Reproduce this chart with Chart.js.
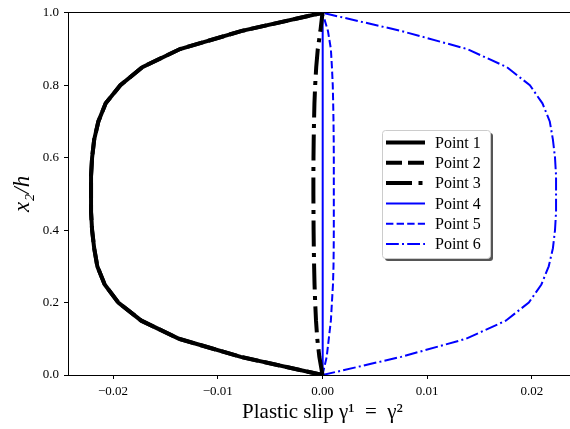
<!DOCTYPE html>
<html>
<head>
<meta charset="utf-8">
<script src="https://cdn.jsdelivr.net/npm/chart.js@4"></script>
<style>
html,body{margin:0;padding:0;overflow:hidden;background:#fff}
#wrap{width:590px;height:429px}
</style>
</head>
<body>
<div id="wrap"><canvas id="grafica"></canvas></div>
<script>
// alturas x2/h donde se mide el deslizamiento
const alturas = [0,0.05,0.1,0.15,0.2,0.25,0.3,0.35,0.4,0.45,0.5,0.55,0.6,0.65,0.7,0.75,0.8,0.85,0.9,0.95,1.0];
const punto1 = [0,-0.0078,-0.0137,-0.0173,-0.0195,-0.0208,-0.0215,-0.0218,-0.0220,-0.0221,-0.0221,-0.0221,-0.0220,-0.0218,-0.0214,-0.0207,-0.0193,-0.0172,-0.0136,-0.0077,0];
const punto2 = [0,-0.0078,-0.0137,-0.0173,-0.0195,-0.0208,-0.0215,-0.0218,-0.0220,-0.0221,-0.0221,-0.0221,-0.0220,-0.0218,-0.0214,-0.0207,-0.0193,-0.0172,-0.0136,-0.0077,0];
const punto3 = [0,-0.0003,-0.0005,-0.00062,-0.0007,-0.00076,-0.0008,-0.00083,-0.00085,-0.00086,-0.00087,-0.00087,-0.00086,-0.00084,-0.00081,-0.00077,-0.0007,-0.0006,-0.00045,-0.0002,0];
const punto4 = [0,0.00001,0.00002,0.00002,0.00002,0.00002,0.00002,0.00002,0.00002,0.00002,0.00002,0.00002,0.00002,0.00002,0.00002,0.00002,0.00002,0.00002,0.00002,0.00001,0];
const punto5 = [0,0.0004,0.0006,0.0008,0.0009,0.001,0.00105,0.00107,0.00108,0.00108,0.00108,0.00108,0.00108,0.00107,0.00105,0.00102,0.00098,0.0009,0.0008,0.00052,0];
const punto6 = [0,0.0075,0.0137,0.0175,0.0197,0.0209,0.0216,0.0220,0.0222,0.0223,0.0223,0.0223,0.0222,0.0220,0.0217,0.0210,0.0198,0.0176,0.0138,0.0075,0];
const nombres = ["Point 1","Point 2","Point 3","Point 4","Point 5","Point 6"];
const xTicks = [-0.02,-0.01,0,0.01,0.02];
const yTicks = [0,0.2,0.4,0.6,0.8,1.0];

const serif = "'Liberation Serif', 'DejaVu Serif', serif";

function serie(label, xs, color, width, dash) {
    return {
        label: label,
        data: xs.map((x, i) => ({x: x, y: alturas[i]})),
        borderColor: color,
        borderWidth: width,
        borderDash: dash,
        showLine: true,
        pointRadius: 0,
        fill: false,
        tension: 0,
    };
}

// leyenda con sombra, como la de matplotlib
const leyenda = {
    id: 'leyenda',
    afterDraw(chart) {
        const c = chart.ctx;
        const x0 = 382, y0 = 130, w = 108, h = 128;
        c.save();
        c.fillStyle = '#555';
        c.beginPath(); c.roundRect(x0 + 3, y0 + 3, w, h, 3); c.fill();
        c.fillStyle = '#fff';
        c.strokeStyle = '#ccc';
        c.lineWidth = 1;
        c.beginPath(); c.roundRect(x0 + 0.5, y0 + 0.5, w, h, 3); c.fill(); c.stroke();
        chart.data.datasets.forEach((d, i) => {
            const yy = 142.5 + i * 20.3;
            c.beginPath();
            c.setLineDash(d.borderDash || []);
            c.lineWidth = d.borderWidth;
            c.strokeStyle = d.borderColor;
            c.moveTo(386, yy); c.lineTo(425, yy);
            c.stroke();
            c.setLineDash([]);
            c.fillStyle = '#000';
            c.font = "16px " + serif;
            c.textBaseline = 'middle';
            c.fillText(d.label, 435, yy + 1);
        });
        c.restore();
    }
};

const grafica = document.querySelector("#grafica");
new Chart(grafica, {
    type: 'scatter',
    data: {
        datasets: [
            serie(nombres[0], punto1, '#000', 4, []),
            serie(nombres[1], punto2, '#000', 4, [16, 6]),
            serie(nombres[2], punto3, '#000', 4, [26, 6.5, 4, 6.5]),
            serie(nombres[3], punto4, '#0000ff', 2, []),
            serie(nombres[4], punto5, '#0000ff', 2, [7.4, 3.2]),
            serie(nombres[5], punto6, '#0000ff', 2, [12.8, 3.2, 2, 3.2]),
        ]
    },
    options: {
        responsive: true,
        maintainAspectRatio: false,
        animation: false,
        layout: {padding: {top: 12, right: 13, left: 0, bottom: 0}},
        plugins: {legend: {display: false}, tooltip: {enabled: false}},
        scales: {
            x: {
                type: 'linear', position: 'bottom',
                min: -0.0243, max: 0.0243,
                afterBuildTicks: s => { s.ticks = xTicks.map(v => ({value: v})); },
                afterFit: s => { s.height = 54; },
                ticks: {
                    callback: v => (v < 0 ? '\u2212' : '') + Math.abs(v).toFixed(2),
                    font: {family: serif, size: 13}, color: '#000',
                    padding: 5, maxRotation: 0, autoSkip: false,
                },
                grid: {drawOnChartArea: false, tickLength: 4, color: '#000'},
                border: {color: '#000', width: 1},
                title: {
                    display: true, text: 'Plastic slip \u03b3\u00b9\u2002=\u2002\u03b3\u00b2',
                    font: {family: serif, size: 21}, color: '#000',
                    padding: {top: 0, bottom: 4},
                },
            },
            y: {
                type: 'linear', position: 'left',
                min: 0, max: 1,
                afterBuildTicks: s => { s.ticks = yTicks.map(v => ({value: v})); },
                afterFit: s => { s.width = 68; },
                ticks: {
                    callback: v => v.toFixed(1),
                    font: {family: serif, size: 13}, color: '#000',
                    padding: 5, autoSkip: false,
                },
                grid: {drawOnChartArea: false, tickLength: 4, color: '#000'},
                border: {color: '#000', width: 1},
                title: {
                    display: true, text: 'x\u2082/h',
                    font: {family: serif, size: 23, style: 'italic'}, color: '#000',
                    padding: {top: 9, bottom: 0},
                },
            },
            arriba: {
                type: 'linear', position: 'top', axis: 'x',
                afterFit: s => { s.height = 0; },
                ticks: {display: false},
                grid: {display: false},
                border: {color: '#000', width: 1},
            },
        },
    },
    plugins: [leyenda],
});
</script>
</body>
</html>
